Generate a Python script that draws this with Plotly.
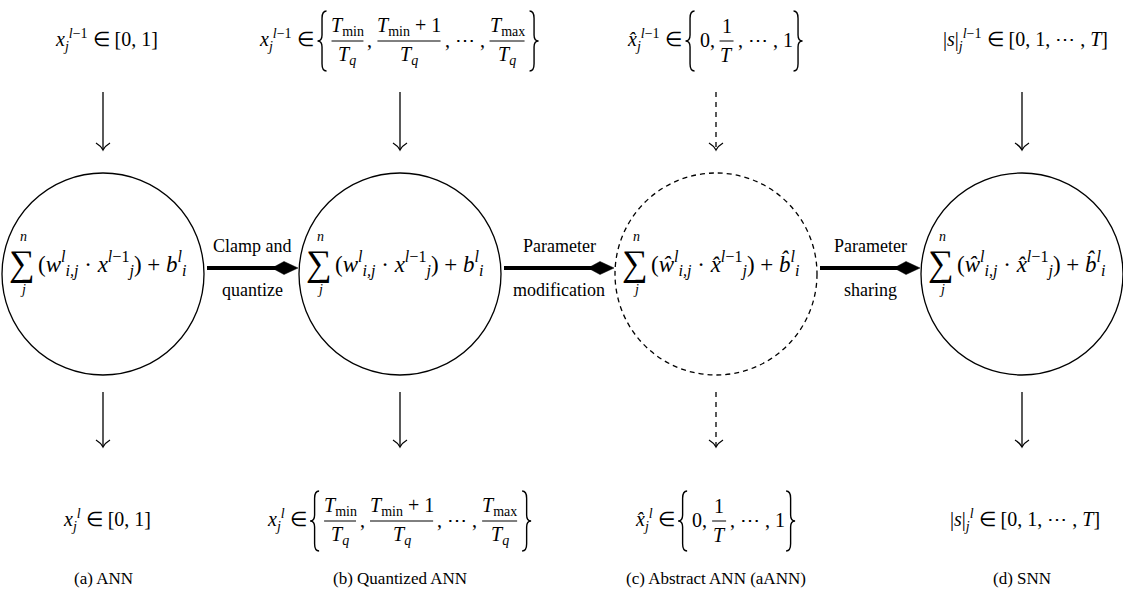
import re
import plotly.graph_objects as go

W, H = 1123, 593
FONT = "Liberation Serif, Times New Roman, serif"

# ---------------- data ----------------
panel_captions = ["(a) ANN", "(b) Quantized ANN", "(c) Abstract ANN (aANN)", "(d) SNN"]
transition_top = ["Clamp and", "Parameter", "Parameter"]
transition_bottom = ["quantize", "modification", "sharing"]
dashed_panels = [False, False, True, False]

X = "<i>x</i>"
XH = "<i>x\u0302</i>"
S = "|<i>s</i>|"
TMIN = "<i>T</i><sub>min</sub>"
TMAX = "<i>T</i><sub>max</sub>"
TQ = "<i>T</i><sub><i>q</i></sub>"
SUP_IN = "<sub><i>j</i></sub><sup><i>l</i>\u22121</sup>"
SUP_OUT = "<sub><i>j</i></sub><sup><i>l</i></sup>"

# label tokens: ('t', text) | ('f', numerator, denominator) | ('b', '{' or '}')
set_quant = [("b", "{"), ("f", TMIN, TQ), ("t", ", "), ("f", TMIN + " + 1", TQ),
             ("t", ", \u22ef , "), ("f", TMAX, TQ), ("b", "}")]
set_abstract = [("b", "{"), ("t", "0, "), ("f", "1", "<i>T</i>"), ("t", ", \u22ef , 1"), ("b", "}")]

input_labels = [
    [("t", X + SUP_IN + " \u2208 [0, 1]")],
    [("t", X + SUP_IN + " \u2208 ")] + set_quant,
    [("t", XH + SUP_IN + " \u2208 ")] + set_abstract,
    [("t", S + SUP_IN + " \u2208 [0, 1, \u22ef , <i>T</i>]")],
]
output_labels = [
    [("t", X + SUP_OUT + " \u2208 [0, 1]")],
    [("t", X + SUP_OUT + " \u2208 ")] + set_quant,
    [("t", XH + SUP_OUT + " \u2208 ")] + set_abstract,
    [("t", S + SUP_OUT + " \u2208 [0, 1, \u22ef , <i>T</i>]")],
]
neuron_terms = [
    "(<i>w</i><sup><i>l</i></sup><sub><i>i,j</i></sub> \u00b7 <i>x</i><sup><i>l</i>\u22121</sup><sub><i>j</i></sub>) + <i>b</i><sup><i>l</i></sup><sub><i>i</i></sub>",
    "(<i>w</i><sup><i>l</i></sup><sub><i>i,j</i></sub> \u00b7 <i>x</i><sup><i>l</i>\u22121</sup><sub><i>j</i></sub>) + <i>b</i><sup><i>l</i></sup><sub><i>i</i></sub>",
    "(<i>w\u0302</i><sup><i>l</i></sup><sub><i>i,j</i></sub> \u00b7 <i>x\u0302</i><sup><i>l</i>\u22121</sup><sub><i>j</i></sub>) + <i>b\u0302</i><sup><i>l</i></sup><sub><i>i</i></sub>",
    "(<i>w\u0302</i><sup><i>l</i></sup><sub><i>i,j</i></sub> \u00b7 <i>x\u0302</i><sup><i>l</i>\u22121</sup><sub><i>j</i></sub>) + <i>b\u0302</i><sup><i>l</i></sup><sub><i>i</i></sub>",
]

# ---------------- layout constants ----------------
CX = [103, 400, 716, 1022]
CY = 274
R = 101
TOP_Y = 40
BOT_Y = 520
CAP_Y = 578
ARR_TOP = (92, 150)
ARR_BOT = (392, 447)
LABEL_FS = 20

annotations = []
shapes = []


def txt(x, y, text, size, xanchor="center", yanchor="middle"):
    annotations.append(dict(x=x, y=y, xref="x", yref="y", text=text, showarrow=False,
                            xanchor=xanchor, yanchor=yanchor,
                            font=dict(family=FONT, size=size, color="black")))


CHAR_W = {" ": 0.25, ",": 0.25, "\u2208": 0.67, "\u22ef": 1.0, "[": 0.33, "]": 0.33,
          "|": 0.2, "+": 0.56, "(": 0.33, ")": 0.33, "\u00b7": 0.25, "\u2212": 0.56,
          "\u0302": 0.0, "i": 0.28, "j": 0.28, "l": 0.28, "1": 0.5, "0": 0.5}


def est_w(html, fs):
    w = 0.0
    small = 0
    for part in re.split(r"(<[^>]+>)", html):
        if part.startswith("<"):
            tag = part.strip("<>/")
            if tag in ("sub", "sup"):
                small += -1 if part.startswith("</") else 1
            continue
        for ch in part:
            f = CHAR_W.get(ch, 0.5)
            w += f * fs * (0.7 if small else 1.0)
    return w


def brace(x, y0, y1, w, left=True):
    m = (y0 + y1) / 2
    h = y1 - y0
    s = 1 if left else -1
    xo = x + s * w
    xm = x + s * w / 2
    xi = x
    p = (f"M{xo},{y0} Q{xm},{y0} {xm},{y0 + h * 0.12} L{xm},{m - h * 0.1} "
         f"Q{xm},{m} {xi},{m} Q{xm},{m} {xm},{m + h * 0.1} L{xm},{y1 - h * 0.12} "
         f"Q{xm},{y1} {xo},{y1}")
    shapes.append(dict(type="path", path=p, xref="x", yref="y",
                       line=dict(color="black", width=1.4)))


def place_row(cx, cy, tokens, fs):
    widths = []
    for t in tokens:
        if t[0] == "t":
            widths.append(est_w(t[1], fs))
        elif t[0] == "f":
            widths.append(max(est_w(t[1], fs), est_w(t[2], fs)) + 8)
        else:
            widths.append(16)
    total = sum(widths)
    x = cx - total / 2
    for t, w in zip(tokens, widths):
        if t[0] == "t":
            txt(x, cy, t[1], fs, xanchor="left")
        elif t[0] == "f":
            mid = x + w / 2
            txt(mid, cy - 14, t[1], fs)
            txt(mid, cy + 15, t[2], fs)
            shapes.append(dict(type="line", x0=x + 2, x1=x + w - 2, y0=cy + 1, y1=cy + 1,
                               xref="x", yref="y", line=dict(color="black", width=1)))
        else:
            if t[1] == "{":
                brace(x + 4, cy - 29, cy + 31, 9, left=True)
            else:
                brace(x + w - 4, cy - 29, cy + 31, 9, left=False)
        x += w


def v_arrow(x, y0, y1, dashed):
    dash = "5px,5px" if dashed else "solid"
    shapes.append(dict(type="line", x0=x, x1=x, y0=y0, y1=y1 - 1, xref="x", yref="y",
                       line=dict(color="black", width=1.3, dash=dash)))
    p = f"M{x - 7},{y1 - 7} Q{x - 2},{y1 - 4} {x},{y1} Q{x + 2},{y1 - 4} {x + 7},{y1 - 7}"
    shapes.append(dict(type="path", path=p, xref="x", yref="y",
                       line=dict(color="black", width=1.3)))


def h_arrow(x0, x1, y):
    shapes.append(dict(type="line", x0=x0, x1=x1 - 20, y0=y, y1=y, xref="x", yref="y",
                       line=dict(color="black", width=4)))
    p = f"M{x1 - 26},{y} L{x1 - 14},{y - 6.5} L{x1},{y} L{x1 - 14},{y + 6.5} Z"
    shapes.append(dict(type="path", path=p, xref="x", yref="y", fillcolor="black",
                       line=dict(color="black", width=0.5)))


for i, cap in enumerate(panel_captions):
    cx = CX[i]
    dashed = dashed_panels[i]
    shapes.append(dict(type="circle", x0=cx - R, x1=cx + R, y0=CY - R, y1=CY + R,
                       xref="x", yref="y",
                       line=dict(color="black", width=1.3, dash="5px,4px" if dashed else "solid")))
    fy = CY - 10
    sx = cx - 81
    txt(sx, fy - 1, "\u2211", 36)
    txt(sx + 1, fy - 28, "<i>n</i>", 14)
    txt(sx + 1, fy + 25, "<i>j</i>", 14)
    txt(sx + 14, fy, neuron_terms[i], 23, xanchor="left")
    v_arrow(cx, ARR_TOP[0], ARR_TOP[1], dashed)
    v_arrow(cx, ARR_BOT[0], ARR_BOT[1], dashed)
    place_row(cx, TOP_Y, input_labels[i], LABEL_FS)
    place_row(cx, BOT_Y, output_labels[i], LABEL_FS)
    txt(cx, CAP_Y, cap, 17)

for i in range(3):
    x0 = CX[i] + R + 3
    x1 = CX[i + 1] - R - 1
    h_arrow(x0, x1, CY - 6)
    mx = (x0 + x1) / 2
    txt(mx, CY - 28, transition_top[i], 18)
    txt(mx, CY + 16, transition_bottom[i], 18)

fig = go.Figure()
fig.update_layout(
    width=W, height=H, margin=dict(l=0, r=0, t=0, b=0),
    paper_bgcolor="white", plot_bgcolor="white", showlegend=False,
    xaxis=dict(range=[0, W], visible=False, fixedrange=True),
    yaxis=dict(range=[H, 0], visible=False, fixedrange=True),
    annotations=annotations, shapes=shapes,
)
fig.write_html("out.html", config={"displayModeBar": False, "staticPlot": True},
               post_script="document.body.style.margin='0';document.body.style.overflow='hidden';")
